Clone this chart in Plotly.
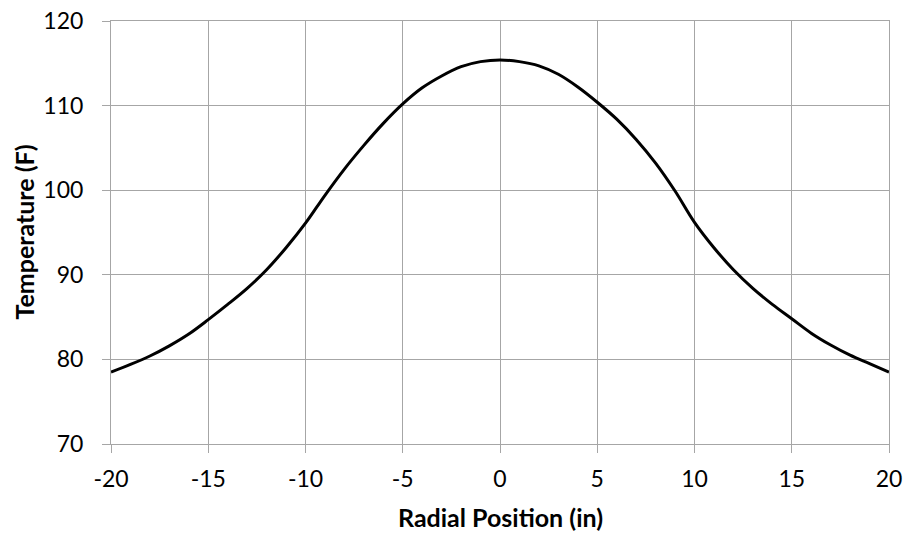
import plotly.graph_objects as go

# radial position (in) and temperature (F)
radial_in = list(range(-20, 21))
temp_f = [78.5, 79.4, 80.4, 81.6, 83.0, 84.7, 86.5, 88.4, 90.6, 93.2,
          96.1, 99.4, 102.5, 105.3, 107.9, 110.2, 112.1, 113.5, 114.6, 115.2,
          115.4,
          115.2, 114.7, 113.7, 112.2, 110.4, 108.4, 106.0, 103.2, 99.9,
          96.2, 93.2, 90.6, 88.4, 86.5, 84.8, 83.1, 81.7, 80.5, 79.5, 78.5]

x_ticks = [-20, -15, -10, -5, 0, 5, 10, 15, 20]
x_labels = ["-20", "-15", "-10", "-5", "0", "5", "10", "15", "20"]
y_ticks = [70, 80, 90, 100, 110, 120]

grid = "#a6a6a6"
font = "Lato, Carlito, sans-serif"
title_font = dict(family=font, size=25, color="black")

fig = go.Figure()
fig.add_trace(go.Scatter(
    x=radial_in, y=temp_f, mode="lines",
    line=dict(color="black", width=3, shape="spline", smoothing=1),
    showlegend=False, hoverinfo="x+y",
))

axis_common = dict(
    showgrid=True, gridcolor=grid, gridwidth=1,
    showline=True, linecolor=grid, linewidth=1, mirror=True,
    ticks="outside", ticklen=8, tickcolor=grid, tickwidth=1,
    zeroline=False, automargin=False, ticklabeloverflow="allow",
    tickfont=dict(family=font, size=23, color="black"),
)

fig.update_layout(
    width=904, height=533,
    paper_bgcolor="white", plot_bgcolor="white",
    margin=dict(l=111, r=15, t=21, b=89),
    xaxis=dict(range=[-20, 20], tickvals=x_ticks, ticktext=x_labels,
               ticklabelstandoff=6, **axis_common),
    yaxis=dict(range=[70, 120], tickvals=y_ticks, ticklabelstandoff=14,
               **axis_common),
)

# axis titles placed as annotations to sit where the reference has them
fig.add_annotation(text="<b>Radial Position (in)</b>", xref="paper", yref="paper",
                   x=0.5, y=-0.172, xanchor="center", yanchor="middle",
                   showarrow=False, font=title_font)
fig.add_annotation(text="<b>Temperature (F)</b>", xref="paper", yref="paper",
                   x=-0.113, y=0.5, xanchor="center", yanchor="middle",
                   textangle=-90, showarrow=False, font=title_font)

# drop the default 8px body margin so the figure fills the window
fig.write_html("out.html", config={"displayModeBar": False},
               post_script="document.body.style.margin='0';")
